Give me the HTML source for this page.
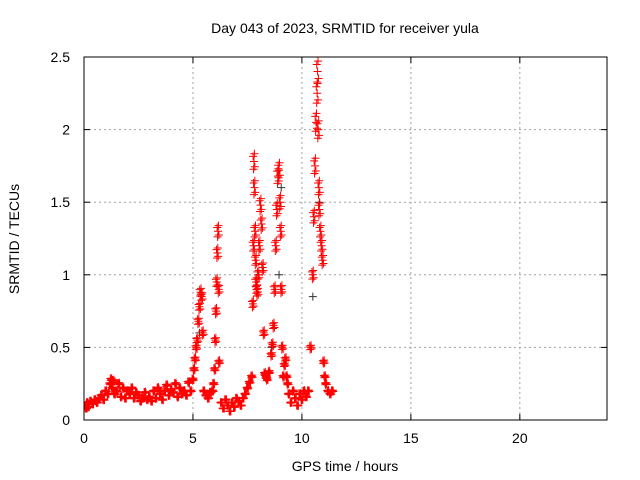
<!DOCTYPE html>
<html><head><meta charset="utf-8"><style>
body{margin:0;background:#fff;}
svg{display:block;font-family:"Liberation Sans",sans-serif;}
</style></head><body>
<svg id="chart" width="640" height="480" xmlns="http://www.w3.org/2000/svg">
<defs><clipPath id="pc"><rect x="84" y="54" width="523" height="370"/></clipPath></defs>
<rect width="640" height="480" fill="#fff"/>
<text x="345" y="33" font-size="14" text-anchor="middle">Day 043 of 2023, SRMTID for receiver yula</text>
<text x="345" y="471" font-size="14" text-anchor="middle">GPS time / hours</text>
<text transform="translate(19,239) rotate(-90)" font-size="14" text-anchor="middle">SRMTID / TECUs</text>
<g id="grid"></g><g id="marks" clip-path="url(#pc)"></g><g id="axes"></g>
</svg>
<script>
const xTicks=[0,5,10,15,20];
const yTicks=[0,0.5,1,1.5,2,2.5];
const yTickLabels=["0","0.5","1","1.5","2","2.5"];
const redTimes=[0.05,0.1,0.15,0.2,0.3,0.4,0.5,0.6,0.7,0.8,0.9,1.0,1.1,1.2,1.25,1.3,1.35,1.4,1.5,1.6,1.7,1.8,1.9,2.0,2.1,2.2,2.3,2.4,2.5,2.6,2.7,2.8,2.9,3.0,3.1,3.2,3.3,3.4,3.5,3.6,3.7,3.8,3.9,4.0,4.1,4.2,4.3,4.4,4.5,4.6,4.7,4.8,4.9,5.0,5.05,5.1,5.15,5.2,5.25,5.3,5.35,5.4,5.45,5.5,5.6,5.7,5.8,5.9,5.95,6.0,6.03,6.06,6.09,6.12,6.15,6.18,6.2,6.3,6.4,6.5,6.6,6.7,6.8,6.9,7.0,7.1,7.2,7.3,7.4,7.5,7.6,7.7,7.75,7.78,7.8,7.82,7.85,7.88,7.9,7.93,7.96,8.0,8.05,8.1,8.15,8.2,8.25,8.3,8.35,8.4,8.5,8.6,8.65,8.7,8.75,8.8,8.85,8.9,8.95,9.0,9.03,9.06,9.1,9.15,9.2,9.25,9.3,9.35,9.4,9.5,9.6,9.7,9.8,9.9,10.0,10.1,10.2,10.3,10.4,10.5,10.55,10.6,10.65,10.7,10.72,10.75,10.78,10.8,10.85,10.9,10.95,11.0,11.05,11.1,11.2,11.3,11.4];
const redValues=[0.1,0.08,0.12,0.09,0.13,0.11,0.14,0.12,0.15,0.17,0.14,0.2,0.18,0.25,0.28,0.22,0.27,0.18,0.2,0.25,0.16,0.22,0.15,0.2,0.18,0.22,0.15,0.19,0.17,0.13,0.15,0.19,0.14,0.16,0.13,0.2,0.15,0.22,0.18,0.14,0.2,0.24,0.17,0.21,0.19,0.25,0.16,0.22,0.18,0.2,0.17,0.26,0.2,0.28,0.35,0.42,0.5,0.55,0.68,0.78,0.88,0.85,0.6,0.2,0.17,0.15,0.19,0.2,0.25,0.35,0.55,0.75,0.95,1.15,1.3,0.9,0.4,0.12,0.08,0.14,0.1,0.06,0.12,0.09,0.15,0.13,0.1,0.15,0.18,0.22,0.26,0.3,0.8,1.2,1.78,1.6,1.3,1.1,0.95,0.9,0.88,1.0,1.2,1.48,1.35,1.05,0.6,0.32,0.3,0.28,0.33,0.45,0.52,0.65,0.9,1.2,1.45,1.68,1.72,1.5,1.3,0.9,0.5,0.3,0.38,0.42,0.3,0.25,0.18,0.12,0.2,0.15,0.1,0.18,0.14,0.2,0.16,0.2,0.5,1.0,1.4,1.75,2.05,2.25,2.4,2.0,1.6,1.45,1.3,1.2,1.1,0.4,0.3,0.25,0.2,0.18,0.2];
const blackTimes=[5.3,8.95,9.05,10.8,10.5,8.6];
const blackValues=[0.6,1.0,1.6,1.5,0.85,0.5];
const X=t=>84+t*(607-84)/24, Y=v=>420-v*(420-57)/2.5;
const NS="http://www.w3.org/2000/svg";
const grid=document.getElementById('grid'),axes=document.getElementById('axes'),marks=document.getElementById('marks');
function mk(tag,attrs,parent){const e=document.createElementNS(NS,tag);for(const k in attrs)e.setAttribute(k,attrs[k]);parent.appendChild(e);return e;}
xTicks.forEach(t=>{
 if(t>0){const g=mk('line',{x1:X(t),x2:X(t),y1:57,y2:420,stroke:'#a0a0a0','stroke-dasharray':'2,3'},grid);
 
 }
 const l=mk('text',{x:X(t),y:443,'font-size':14,'text-anchor':'middle'},axes);l.textContent=t;
 
 
 mk('line',{x1:X(t),x2:X(t),y1:420,y2:414,stroke:'#000'},axes);
 mk('line',{x1:X(t),x2:X(t),y1:57,y2:63,stroke:'#000'},axes);
});
yTicks.forEach((v,i)=>{
 if(v>0&&v<2.5){const g=mk('line',{x1:84,x2:607,y1:Y(v),y2:Y(v),stroke:'#a0a0a0','stroke-dasharray':'2,3'},grid);
 
 }
 const l=mk('text',{x:70,y:Y(v)+5,'font-size':14,'text-anchor':'end'},axes);l.textContent=yTickLabels[i];
 
 
 mk('line',{x1:84,x2:90,y1:Y(v),y2:Y(v),stroke:'#000'},axes);
 mk('line',{x1:601,x2:607,y1:Y(v),y2:Y(v),stroke:'#000'},axes);
});
const frame=mk('rect',{x:84,y:57,width:523,height:363,fill:'none',stroke:'#000'},axes);


function plus(t,v,c,name){const x=X(t),y=Y(v);
 const p=mk('path',{d:`M${x-4} ${y}H${x+4}M${x} ${y-4}V${y+4}`,stroke:c,'stroke-width':1},marks);
 
 }
blackTimes.forEach((t,i)=>plus(t,blackValues[i],'#333','black-point'));
redTimes.forEach((t,i)=>plus(t,redValues[i],'#ff0000','srmtid-point'));
const offs=[[-0.04,0.02],[0.04,-0.02],[-0.02,-0.03],[0.02,0.03]];
redTimes.forEach((t,i)=>{const v=redValues[i];offs.forEach(o=>plus(t+o[0],Math.max(0.03,v*(1+o[1])),'#ff0000','srmtid-point'));});
</script>
</body></html>
